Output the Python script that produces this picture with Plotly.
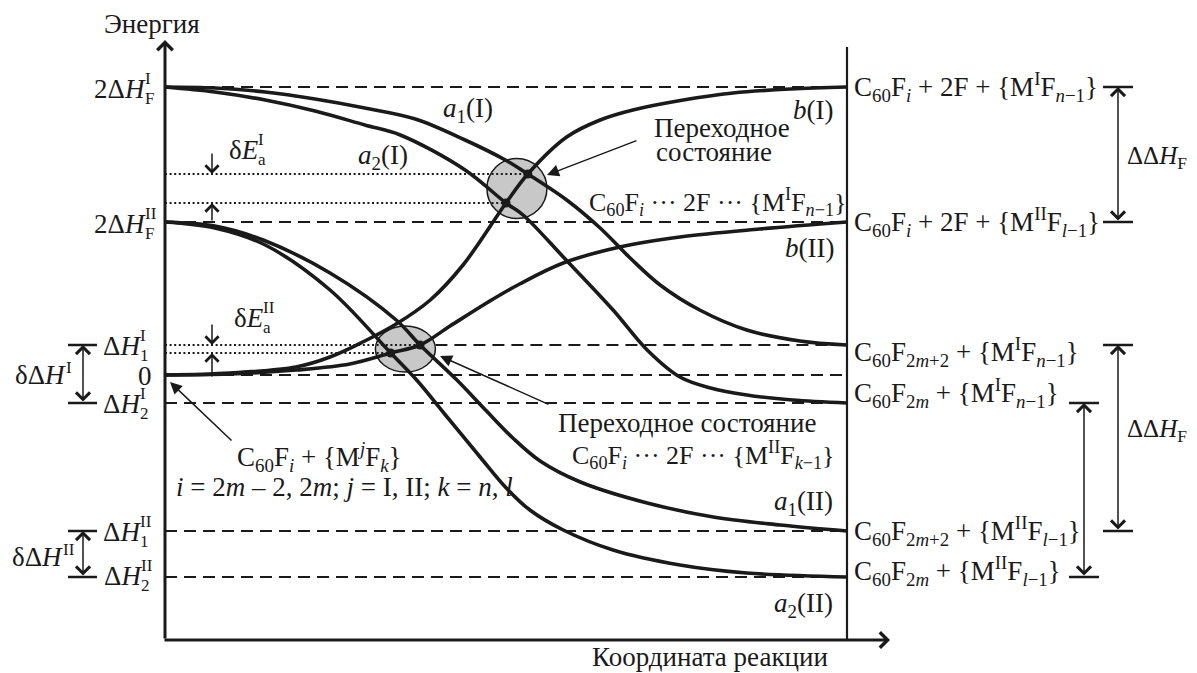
import plotly.graph_objects as go

W, H = 1197, 673
OFF = 8  # page body margin in the browser
FONT = "Liberation Serif, 'Times New Roman', serif"
INK = "#1a1a1a"
FS = 27
SFS = 17

# ---------------- data (reaction coordinate 0..100, energy in arbitrary units) -------------
E_2HF_I = 2.88
E_2HF_II = 1.53
E_H1_I = 0.30
E_ZERO = 0.0
E_H2_I = -0.28
E_H1_II = -1.56
E_H2_II = -2.02

# transition-state crossings [on a1, on a2]
TS_I_x = [53.2, 50.0]
TS_I_E = [2.01, 1.72]
TS_II_x = [37.4, 33.1]
TS_II_E = [0.30, 0.22]

a1_I_x = [0, 7.3, 14.7, 22.0, 29.3, 36.7, 44.0, 49.9, 53.2, 58.9, 63.8, 68.2, 72.6, 78.4, 85.3, 93.1, 100]
a1_I_E = [2.88, 2.87, 2.83, 2.76, 2.67, 2.56, 2.35, 2.15, 2.01, 1.75, 1.47, 1.17, 0.90, 0.65, 0.45, 0.34, 0.30]

a2_I_x = [0, 7.3, 14.7, 22.0, 29.3, 34.5, 44.0, 50.0, 52.5, 58.4, 65.7, 70.7, 75.5, 80.0, 85.3, 92.0, 100]
a2_I_E = [2.88, 2.83, 2.75, 2.64, 2.50, 2.40, 2.05, 1.72, 1.60, 1.18, 0.65, 0.25, -0.02, -0.13, -0.20, -0.25, -0.28]

b_I_x = [0, 9.5, 19.2, 24.2, 29.0, 33.9, 38.9, 43.7, 50.0, 53.2, 58.9, 63.8, 68.6, 76.0, 83.3, 91.7, 100]
b_I_E = [0.0, 0.02, 0.08, 0.18, 0.33, 0.51, 0.75, 1.10, 1.72, 2.01, 2.38, 2.55, 2.65, 2.75, 2.82, 2.86, 2.88]

b_II_x = [0, 9.5, 19.2, 27.1, 33.1, 37.4, 41.8, 47.4, 52.0, 58.4, 66.7, 75.5, 87.2, 100]
b_II_E = [0.0, 0.01, 0.05, 0.11, 0.22, 0.30, 0.49, 0.73, 0.91, 1.12, 1.28, 1.38, 1.46, 1.53]

a1_II_x = [0, 7.3, 14.4, 24.2, 33.9, 37.4, 42.8, 47.0, 51.0, 55.0, 60.9, 70.7, 80.4, 90.2, 100]
a1_II_E = [1.53, 1.49, 1.35, 1.02, 0.55, 0.30, -0.05, -0.35, -0.63, -0.86, -1.07, -1.28, -1.42, -1.50, -1.56]

a2_II_x = [0, 7.3, 14.7, 24.2, 33.1, 36.9, 41.0, 46.2, 49.9, 53.5, 58.4, 65.7, 75.5, 85.3, 100]
a2_II_E = [1.53, 1.47, 1.30, 0.85, 0.22, -0.05, -0.39, -0.82, -1.12, -1.35, -1.55, -1.75, -1.90, -1.98, -2.02]

# ---------------- layout helpers (page pixel -> data) ----------------
X0PX, XS = 165.0, 6.82
Y0PX, YS = 375.0, 100.0


def xd(px):
    return (px - X0PX) / XS


def yd(py):
    return (Y0PX - py) / YS


def ypx(E):
    return Y0PX - E * YS


fig = go.Figure()
annotations = []
shapes = []

# transition-state ellipses
RX = 4.4
for xs, es, ry in [(TS_I_x, TS_I_E, 0.30), (TS_II_x, TS_II_E, 0.23)]:
    cx = sum(xs) / 2
    cy = sum(es) / 2
    shapes.append(dict(type="circle", xref="x", yref="y", x0=cx - RX, x1=cx + RX,
                       y0=cy - ry, y1=cy + ry, fillcolor="#c8c8c8",
                       line=dict(color=INK, width=1.5), layer="below"))

DASH = "12px,7px"
DOT = "2px,2.6px"

# dashed energy levels
for lv in [E_2HF_I, E_2HF_II, E_ZERO, E_H2_I, E_H1_II, E_H2_II]:
    fig.add_trace(go.Scatter(x=[0, 100], y=[lv, lv], mode="lines",
                             line=dict(color=INK, width=2, dash=DASH), hoverinfo="skip"))
x_start_h1 = sum(TS_II_x) / 2 + RX
fig.add_trace(go.Scatter(x=[x_start_h1, 100], y=[E_H1_I, E_H1_I], mode="lines",
                         line=dict(color=INK, width=2, dash=DASH), hoverinfo="skip"))

# dotted activation-energy lines
for xs, es in [(TS_I_x, TS_I_E), (TS_II_x, TS_II_E)]:
    for xv, ev in zip(xs, es):
        fig.add_trace(go.Scatter(x=[0, xv], y=[ev, ev], mode="lines",
                                 line=dict(color=INK, width=2, dash=DOT), hoverinfo="skip"))

# curves
for cx_, ce_ in [(a1_I_x, a1_I_E), (a2_I_x, a2_I_E), (b_I_x, b_I_E), (b_II_x, b_II_E),
                 (a1_II_x, a1_II_E), (a2_II_x, a2_II_E)]:
    fig.add_trace(go.Scatter(x=cx_, y=ce_, mode="lines",
                             line=dict(color=INK, width=3.6, shape="spline", smoothing=1.0),
                             hoverinfo="skip"))

# TS dots
fig.add_trace(go.Scatter(x=TS_I_x + TS_II_x, y=TS_I_E + TS_II_E, mode="markers",
                         marker=dict(color=INK, size=9), hoverinfo="skip"))

# frame: axes and right line
Y_AX_BOTTOM = yd(640)
shapes.append(dict(type="line", xref="x", yref="y", x0=100, x1=100, y0=Y_AX_BOTTOM, y1=yd(47),
                   line=dict(color=INK, width=2.2)))


def arrow(tail, head, style=4, size=1.0, width=1.5, both=False):
    d = dict(x=head[0], y=head[1], ax=tail[0], ay=tail[1], xref="x", yref="y",
             axref="x", ayref="y", showarrow=True, arrowhead=style, arrowsize=size,
             arrowwidth=width, arrowcolor=INK, text="", standoff=0)
    if both:
        d.update(arrowside="end+start", startarrowhead=style, startarrowsize=size, startstandoff=0)
    annotations.append(d)


arrow((0, Y_AX_BOTTOM), (0, yd(40)), 4, 1.0, 3)
arrow((xd(163), Y_AX_BOTTOM), (xd(890), Y_AX_BOTTOM), 4, 1.0, 3)


def text(px, py, s, xanchor="center", size=FS, yshift=0):
    annotations.append(dict(x=xd(px), y=yd(py), xref="x", yref="y", text=s, showarrow=False,
                            xanchor=xanchor, yanchor="middle", yshift=yshift, borderpad=0,
                            font=dict(size=size, family=FONT, color=INK)))


def stacked(split_px, py, main, sup, sub, dy=-2):
    text(split_px, py, main, "right", FS, yshift=dy)
    if sup:
        text(split_px - 3, py, sup, "left", SFS, yshift=dy + 11)
    if sub:
        text(split_px - 3, py, sub, "left", SFS, yshift=dy - 9)


# axis labels
text(152, 24, "Энергия")
text(710, 657, "Координата реакции")

# left level labels
stacked(147, ypx(E_2HF_I), "2Δ<i>H</i>", "I", "F")
stacked(147, ypx(E_2HF_II), "2Δ<i>H</i>", "II", "F")
stacked(142, ypx(TS_II_E[0]), "Δ<i>H</i>", "I", "1", dy=-1)
text(153, ypx(E_ZERO), "0", "right", yshift=-1)
stacked(142, ypx(E_H2_I), "Δ<i>H</i>", "I", "2", dy=-1)
stacked(142, ypx(E_H1_II), "Δ<i>H</i>", "II", "1", dy=-1)
stacked(143, ypx(E_H2_II), "Δ<i>H</i>", "II", "2", dy=1)

# activation-energy differences
stacked(260, 150, "δ<i>E</i>", "I", "a", dy=0)
arrow((xd(212), yd(152)), (xd(212), TS_I_E[0]), 4, 1.7, 1.5)
arrow((xd(212), E_2HF_II), (xd(212), TS_I_E[1]), 4, 1.7, 1.5)

stacked(265, 318, "δ<i>E</i>", "II", "a", dy=0)
arrow((xd(212), yd(323)), (xd(212), TS_II_E[0]), 4, 1.7, 1.5)
arrow((xd(212), yd(378)), (xd(212), TS_II_E[1]), 4, 1.7, 1.5)

# left brackets
for top, bot, label, lpy, split in [(E_H1_I, E_H2_I, "I", 375, 67), (E_H1_II, E_H2_II, "II", 557, 64)]:
    for lv in (top, bot):
        shapes.append(dict(type="line", xref="x", yref="y", x0=xd(68), x1=xd(97), y0=lv, y1=lv,
                           line=dict(color=INK, width=2.5)))
    arrow((xd(83), bot), (xd(83), top), 4, 1.8, 1.5, both=True)
    text(split, lpy, "δΔ<i>H</i>", "right")
    text(split - 2, lpy - 8, label, "left", SFS)

# right brackets
for top, bot, x0, x1 in [(E_2HF_I, E_2HF_II, 1103, 1133), (E_H1_I, E_H1_II, 1103, 1133),
                         (E_H2_I, E_H2_II, 1069, 1099)]:
    for lv in (top, bot):
        shapes.append(dict(type="line", xref="x", yref="y", x0=xd(x0), x1=xd(x1), y0=lv, y1=lv,
                           line=dict(color=INK, width=2.5)))
    arrow((xd((x0 + x1) / 2), bot), (xd((x0 + x1) / 2), top), 4, 1.8, 1.5, both=True)
text(1126, 157, "ΔΔ<i>H</i><sub>F</sub>", "left", 25)
text(1126, 430, "ΔΔ<i>H</i><sub>F</sub>", "left", 25)

# right-side species labels
R_LABELS = [
    (E_2HF_I, 0, "C<sub>60</sub>F<sub><i>i</i></sub> + 2F + {M<sup>I</sup>F<sub><i>n</i>−1</sub>}"),
    (E_2HF_II, 0, "C<sub>60</sub>F<sub><i>i</i></sub> + 2F + {M<sup>II</sup>F<sub><i>l</i>−1</sub>}"),
    (E_H1_I, -7, "C<sub>60</sub>F<sub>2<i>m</i>+2</sub> + {M<sup>I</sup>F<sub><i>n</i>−1</sub>}"),
    (E_H2_I, 10, "C<sub>60</sub>F<sub>2<i>m</i></sub> + {M<sup>I</sup>F<sub><i>n</i>−1</sub>}"),
    (E_H1_II, 0, "C<sub>60</sub>F<sub>2<i>m</i>+2</sub> + {M<sup>II</sup>F<sub><i>l</i>−1</sub>}"),
    (E_H2_II, 6, "C<sub>60</sub>F<sub>2<i>m</i></sub> + {M<sup>II</sup>F<sub><i>l</i>−1</sub>}"),
]
for lv, sh, s in R_LABELS:
    text(853, ypx(lv), s, "left", yshift=sh)

# curve labels
text(468, 110, "<i>a</i><sub>1</sub>(I)")
text(383, 157, "<i>a</i><sub>2</sub>(I)")
text(834, 110, "<i>b</i>(I)", "right")
text(835, 248, "<i>b</i>(II)", "right")
text(834, 503, "<i>a</i><sub>1</sub>(II)", "right")
text(834, 605, "<i>a</i><sub>2</sub>(II)", "right")

# transition state labels
text(653, 128, "Переходное", "left")
text(655, 152, "состояние", "left")
text(588, 202, "C<sub>60</sub>F<sub><i>i</i></sub> ··· 2F ··· {M<sup>I</sup>F<sub><i>n</i>−1</sub>}", "left", 26)
arrow((xd(638), yd(140)), (xd(547), yd(175)), 2, 1.6, 1.5)

text(557, 423, "Переходное состояние", "left")
text(836, 455, "C<sub>60</sub>F<sub><i>i</i></sub> ··· 2F ··· {M<sup>II</sup>F<sub><i>k</i>−1</sub>}", "right", 26)
arrow((xd(550), yd(405)), (xd(440), yd(356)), 2, 1.6, 1.5)

# initial state label
text(236, 457, "C<sub>60</sub>F<sub><i>i</i></sub> + {M<sup><i>j</i></sup>F<sub><i>k</i></sub>}", "left")
text(175, 487, "<i>i</i> = 2<i>m</i> – 2, 2<i>m</i>; <i>j</i> = I, II; <i>k</i> = <i>n</i>, <i>l</i>", "left")
arrow((xd(233), yd(442)), (xd(170), yd(382)), 2, 1.6, 1.5)

fig.update_layout(
    width=W - OFF, height=H - OFF, autosize=False,
    margin=dict(l=0, r=0, t=0, b=0, pad=0),
    paper_bgcolor="white", plot_bgcolor="white",
    showlegend=False,
    xaxis=dict(range=[xd(OFF), xd(W)], visible=False, fixedrange=True),
    yaxis=dict(range=[yd(H), yd(OFF)], visible=False, fixedrange=True),
    shapes=shapes, annotations=annotations,
    font=dict(family=FONT, color=INK, size=FS),
)

fig.write_html("out.html", config={"displayModeBar": False})
